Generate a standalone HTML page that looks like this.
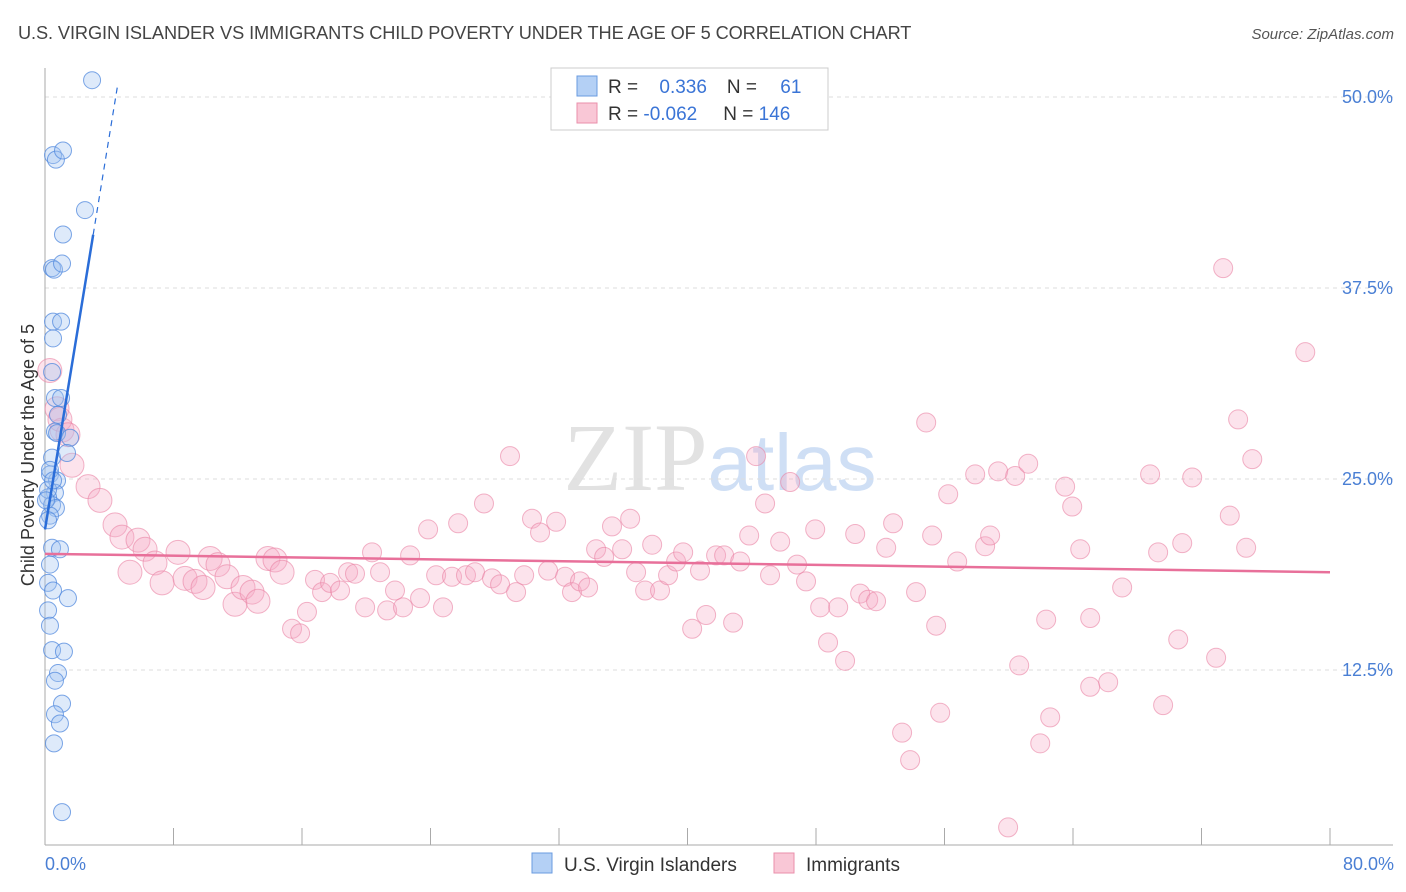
<!DOCTYPE html>
<html><head><meta charset="utf-8"><style>
body{margin:0;background:#fff;font-family:"Liberation Sans",sans-serif;}
svg{display:block}
</style></head><body>
<svg id="chart" width="1406" height="892" xmlns="http://www.w3.org/2000/svg" font-family="Liberation Sans, sans-serif">
<text x="18" y="39" font-size="18.2" fill="#444" letter-spacing="-0.1">U.S. VIRGIN ISLANDER VS IMMIGRANTS CHILD POVERTY UNDER THE AGE OF 5 CORRELATION CHART</text>
<text x="1394" y="39" font-size="15" fill="#555" font-style="italic" text-anchor="end">Source: ZipAtlas.com</text>
<text x="720" y="490" font-size="96" text-anchor="middle" fill="#e2e2e2" font-family="Liberation Serif, serif">ZIP<tspan fill="#cfdff5" font-family="Liberation Sans, sans-serif" font-size="80">atlas</tspan></text>
<g id="grid"></g>
<g id="axes"></g>
<g id="pink"></g>
<g id="blue"></g>
<g id="trends"></g>
<text transform="translate(34,455) rotate(-90)" font-size="18" fill="#333" text-anchor="middle">Child Poverty Under the Age of 5</text>
<text x="45" y="870" font-size="18" fill="#4a7fd4">0.0%</text>
<text x="1394" y="870" font-size="18" fill="#4a7fd4" text-anchor="end">80.0%</text>
<g>
<rect x="551" y="68" width="277" height="62" fill="#fff" stroke="#ccc"/>
<rect x="577" y="76" width="20" height="20" fill="#b4d0f5" stroke="#6a9be0"/>
<rect x="577" y="103" width="20" height="20" fill="#f9c7d6" stroke="#ea8fab"/>
<text x="608" y="93" font-size="19" fill="#333">R = <tspan fill="#3a74d6" dx="16">0.336</tspan><tspan fill="#333" dx="20">N = </tspan><tspan fill="#3a74d6" dx="18">61</tspan></text>
<text x="608" y="120" font-size="19" fill="#333">R = <tspan fill="#3a74d6">-0.062</tspan><tspan fill="#333" dx="26">N = </tspan><tspan fill="#3a74d6">146</tspan></text>
</g>
<g>
<rect x="532" y="853" width="20" height="20" fill="#b4d0f5" stroke="#6a9be0"/>
<text x="564" y="871" font-size="19" fill="#333">U.S. Virgin Islanders</text>
<rect x="774" y="853" width="20" height="20" fill="#f9c7d6" stroke="#ea8fab"/>
<text x="806" y="871" font-size="19" fill="#333">Immigrants</text>
</g>
</svg>
<script>
const xTicks=[0,8,16,24,32,40,48,56,64,72,80];
const yTicks=[12.5,25,37.5,50];
const yTickLabels=["12.5%","25.0%","37.5%","50.0%"];
const blueX=[2.93,0.5,0.68,1.12,2.49,1.12,0.44,0.56,1.06,0.5,1.0,0.5,0.44,0.62,1.0,0.81,0.62,0.75,1.56,0.44,1.37,0.31,0.75,0.62,0.19,0.44,0.68,0.31,0.19,0.44,0.93,0.31,0.19,0.5,1.43,0.19,0.31,0.44,1.18,0.81,0.62,1.06,0.62,0.93,0.56,1.06,0.19,0.06,0.31,0.5];
const blueY=[51.1,46.2,45.9,46.5,42.6,41.0,38.8,38.7,39.1,35.3,35.3,34.2,32.0,30.3,30.3,29.2,28.1,28.0,27.7,26.4,26.7,25.3,24.9,24.1,23.8,23.3,23.1,22.6,22.3,20.5,20.4,19.4,18.2,17.7,17.2,16.4,15.4,13.8,13.7,12.3,11.8,10.3,9.6,9.0,7.7,3.2,24.3,23.6,25.6,24.9];
const pinkX=[0.3,0.75,1.06,1.68,2.68,3.42,4.36,4.79,5.79,6.23,5.29,6.85,7.29,8.28,8.72,9.34,9.84,10.28,10.77,11.33,11.83,12.33,12.89,13.26,13.88,14.32,14.76,15.38,15.88,16.31,16.81,17.25,17.75,18.37,18.87,19.3,19.93,20.36,20.86,21.3,21.79,22.29,22.73,23.35,23.85,24.35,24.78,25.34,25.72,26.21,26.77,27.33,27.83,28.33,28.95,29.33,29.83,30.32,30.82,31.32,31.82,32.38,32.81,33.31,33.81,34.31,34.81,35.3,35.93,36.43,36.8,37.36,37.8,38.29,38.79,39.29,39.73,40.29,40.78,41.16,41.78,42.28,42.84,43.28,43.84,44.27,44.83,45.14,45.77,46.39,46.82,47.38,47.95,48.26,48.75,49.38,49.81,50.44,50.75,51.25,51.74,52.37,52.8,53.36,53.86,54.23,54.86,55.23,55.48,55.73,56.23,56.79,57.91,58.53,58.84,59.34,59.96,60.4,60.65,61.21,61.96,62.33,62.58,63.51,63.95,64.45,65.07,65.07,66.19,67.06,68.8,69.3,69.61,70.55,70.8,71.42,72.91,73.35,73.76,74.28,74.78,75.16,78.46,0.93,1.43];
const pinkY=[32.1,29.6,28.2,25.9,24.5,23.6,22.0,21.2,21.0,20.4,18.9,19.5,18.2,20.2,18.5,18.3,17.9,19.8,19.4,18.6,16.8,17.9,17.6,17.0,19.8,19.7,18.9,15.2,14.9,16.3,18.4,17.6,18.2,17.7,18.9,18.8,16.6,20.2,18.9,16.4,17.7,16.6,20.0,17.2,21.7,18.7,16.6,18.6,22.1,18.7,18.9,23.4,18.5,18.1,26.5,17.6,18.7,22.4,21.5,19.0,22.2,18.6,17.6,18.3,17.9,20.4,19.9,21.9,20.4,22.4,18.9,17.7,20.7,17.7,18.7,19.6,20.2,15.2,19.0,16.1,20.0,20.0,15.6,19.6,21.3,26.5,23.4,18.7,20.9,24.8,19.4,18.3,21.7,16.6,14.3,16.6,13.1,21.4,17.5,17.1,17.0,20.5,22.1,8.4,6.6,17.6,28.7,21.3,15.4,9.7,24.0,19.6,25.3,20.6,21.3,25.5,2.2,25.2,12.8,26.0,7.7,15.8,9.4,24.5,23.2,20.4,15.9,11.4,11.7,17.9,25.3,20.2,10.2,14.5,20.8,25.1,13.3,38.8,22.6,28.9,20.5,26.3,33.3,28.9,27.9];
const blueTrend=[21.7,6.43];
const pinkTrend=[20.1,-0.015];
const X0=45,X1=1330,Yz=861,PY=15.28;
const xs=v=>X0+v*(X1-X0)/80, ys=v=>Yz-v*PY;
const NS="http://www.w3.org/2000/svg";
function mk(parent,tag,attrs){const e=document.createElementNS(NS,tag);for(const k in attrs)e.setAttribute(k,attrs[k]);document.getElementById(parent).appendChild(e);return e;}
yTicks.forEach((t,i)=>{
 const g=mk('grid','line',{x1:45,x2:1393,y1:ys(t),y2:ys(t),stroke:'#ddd','stroke-dasharray':'4,4'});
 
 
 const l=mk('grid','text',{x:1393,y:ys(t)+6,'font-size':18,fill:'#4a7fd4','text-anchor':'end'});
 l.textContent=yTickLabels[i];
 
 
});
const ax=mk('axes','line',{x1:45,x2:1393,y1:845,y2:845,stroke:'#aaa'});


const ay=mk('axes','line',{x1:45,x2:45,y1:68,y2:845,stroke:'#aaa'});


xTicks.forEach(t=>{
 const k=mk('axes','line',{x1:xs(t),x2:xs(t),y1:828,y2:845,stroke:'#aaa'});
 
 
});
pinkX.forEach((v,i)=>{
 const c=mk('pink','circle',{cx:xs(v),cy:ys(pinkY[i]),r:v<15?12:9.5,fill:'rgba(246,170,196,0.33)',stroke:'rgba(234,130,164,0.6)','stroke-width':1});
 
 
});
blueX.forEach((v,i)=>{
 const c=mk('blue','circle',{cx:xs(v),cy:ys(blueY[i]),r:8.5,fill:'rgba(160,196,242,0.35)',stroke:'rgba(80,136,222,0.75)','stroke-width':1});
 
 
});
const bt=mk('trends','line',{x1:xs(0),y1:ys(blueTrend[0]),x2:xs(3),y2:ys(blueTrend[0]+3*blueTrend[1]),stroke:'#2a6dd8','stroke-width':2.5});


const bd=mk('trends','line',{x1:xs(3),y1:ys(blueTrend[0]+3*blueTrend[1]),x2:xs(4.5),y2:ys(blueTrend[0]+4.5*blueTrend[1]),stroke:'#2a6dd8','stroke-width':1.2,'stroke-dasharray':'6,5'});


const pt=mk('trends','line',{x1:xs(0),y1:ys(pinkTrend[0]),x2:xs(80),y2:ys(pinkTrend[0]+80*pinkTrend[1]),stroke:'#e8709a','stroke-width':2.5});


</script>
</body></html>
